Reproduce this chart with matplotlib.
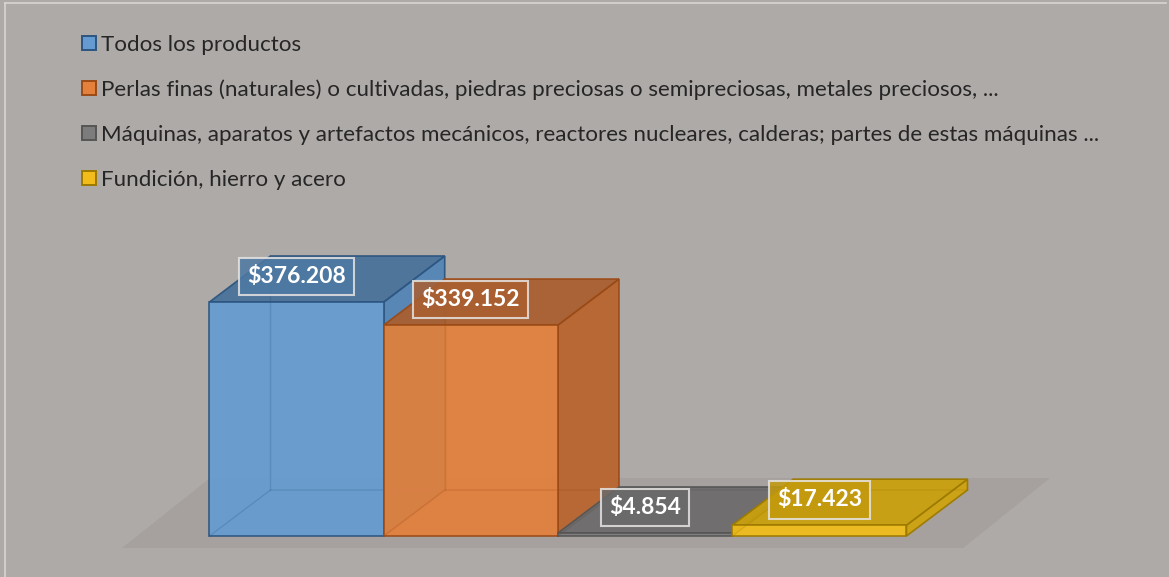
import matplotlib
matplotlib.use("Agg")
import matplotlib.pyplot as plt
from matplotlib.patches import Polygon, Rectangle
from matplotlib.lines import Line2D

# ---------------- data ----------------
series = [
    "Todos los productos",
    "Perlas finas (naturales) o cultivadas, piedras preciosas o semipreciosas, metales preciosos, ...",
    "Máquinas, aparatos y artefactos mecánicos, reactores nucleares, calderas; partes de estas máquinas ...",
    "Fundición, hierro y acero",
]
values = [376.208, 339.152, 4.854, 17.423]
value_labels = ["$376.208", "$339.152", "$4.854", "$17.423"]

# ---------------- style ----------------
front_colors = ["#659bd0", "#e2803c", "#7d7c7c", "#f2bd1a"]
top_colors = ["#4a729b", "#a95f30", "#6d6c6c", "#c9a00e"]
side_colors = ["#5484b6", "#b9652f", "#706f6f", "#cfa310"]
edge_colors = ["#2c5580", "#9a4a16", "#555555", "#9c7a00"]
label_fill = ["#4d79a3", "#a95f30", "#6a6a6a", "#c39a0c"]
bg = "#aeaaa8"
floor_color = "#a6a19f"
font = "Lato"

W, H = 1169, 577
fig = plt.figure(figsize=(W / 100, H / 100), dpi=100)
fig.patch.set_facecolor(bg)
ax = fig.add_axes([0, 0, 1, 1])
ax.set_facecolor(bg)
ax.axis("off")

px_per_x = 174.25   # pixels per category
px_per_y = 0.622    # pixels per value unit
x0_px = 296.6       # pixel x of first category centre
y0_px = 41          # pixel distance of zero line above bottom
ax.set_xlim(-x0_px / px_per_x, (W - x0_px) / px_per_x)
ax.set_ylim(-y0_px / px_per_y, (H - y0_px) / px_per_y)

DX = 61 / px_per_x   # depth offset in category units
DY = 46 / px_per_y   # depth offset in value units

# floor (chart decoration)
fy0 = -12 / px_per_y
fy1 = fy0 + 70 / px_per_y
ax.add_patch(Polygon([(-1.002, fy0), (3.826, fy0), (4.324, fy1), (-0.497, fy1)],
                     closed=True, facecolor=floor_color, edgecolor="none", zorder=1))

for i, v in enumerate(values):
    z = 2 + i * 5
    l, r = i - 0.5, i + 0.5
    # hidden back edges
    ax.add_line(Line2D([l, l + DX, r + DX], [0, DY, DY], color=edge_colors[i],
                       lw=1, alpha=0.35, zorder=z))
    ax.add_line(Line2D([l + DX, l + DX], [DY, v + DY], color=edge_colors[i],
                       lw=1, alpha=0.35, zorder=z))
    # right side face
    ax.add_patch(Polygon([(r, 0), (r + DX, DY), (r + DX, v + DY), (r, v)], closed=True,
                         facecolor=side_colors[i], edgecolor=edge_colors[i], lw=1.2,
                         alpha=0.95, zorder=z + 0.5))
    # top face
    ax.add_patch(Polygon([(l, v), (r, v), (r + DX, v + DY), (l + DX, v + DY)], closed=True,
                         facecolor=top_colors[i], edgecolor=edge_colors[i], lw=1.2,
                         alpha=0.95, zorder=z + 1))
    # front face
    ax.bar(i, v, width=1.0, color=front_colors[i], edgecolor=edge_colors[i],
           linewidth=1.2, alpha=0.93, zorder=z + 2)
    # hidden edges seen through front face
    ax.add_line(Line2D([l, l + DX, r + DX], [0, DY, DY], color=edge_colors[i],
                       lw=1, alpha=0.2, zorder=z + 2.5))
    ax.add_line(Line2D([l + DX, l + DX], [DY, v + DY], color=edge_colors[i],
                       lw=1, alpha=0.2, zorder=z + 2.5))

# value labels
for i, (v, t) in enumerate(zip(values, value_labels)):
    ax.text(i, v + DY * 0.55, t, ha="center", va="center", color="white",
            fontsize=16.5, fontweight="bold", family=font, zorder=40,
            bbox=dict(boxstyle="square,pad=0.36", facecolor=label_fill[i],
                      alpha=0.85, edgecolor="#e6e4e3", linewidth=1.5))

# legend (manual, pixel positions converted to figure fraction)
def fx(px):
    return px / W

def fy(py):
    return 1 - py / H

row_base = [51, 96, 141, 186]
for i, (name, yb) in enumerate(zip(series, row_base)):
    fig.patches.append(Rectangle((fx(82), fy(yb - 1)), 14 / W, 14 / H,
                                 transform=fig.transFigure, facecolor=front_colors[i],
                                 edgecolor=edge_colors[i], lw=1.4))
    fig.text(fx(101), fy(yb), name, ha="left", va="baseline", fontsize=16.1,
             family=font, color="#262626")

# outer light frame lines (top and left)
fig.add_artist(Line2D([fx(5), fx(1166)], [fy(3), fy(3)], transform=fig.transFigure,
                      color="#d8d5d3", lw=1.2))
fig.add_artist(Line2D([fx(5), fx(5)], [fy(3), fy(577)], transform=fig.transFigure,
                      color="#d8d5d3", lw=1.2))

fig.savefig("out.png", dpi=100, facecolor=bg)
